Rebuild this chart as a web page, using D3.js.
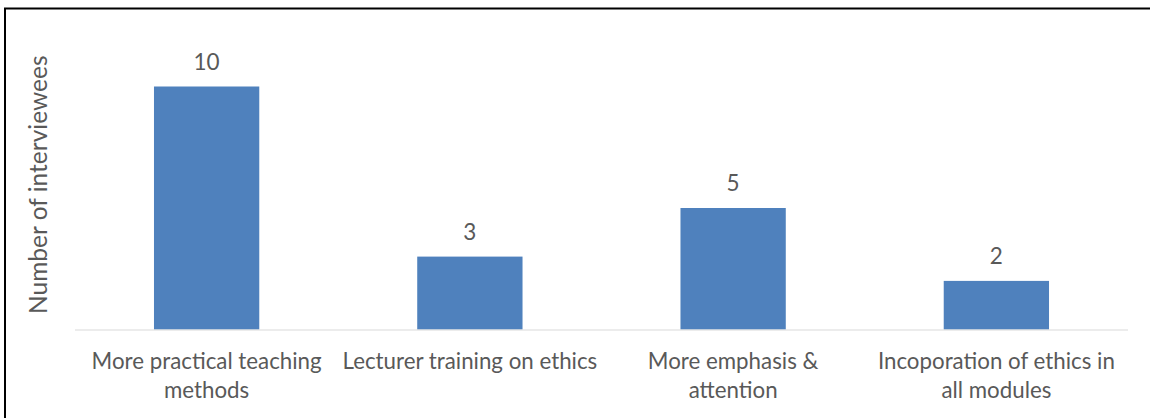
<!DOCTYPE html>
<html>
<head>
<meta charset="utf-8">
<script src="https://cdn.jsdelivr.net/npm/d3@7/dist/d3.min.js"></script>
<style>
  html, body { margin: 0; padding: 0; background: #fff; }
  svg { display: block; }
  text { font-family: Lato, "Open Sans", sans-serif; fill: #595959; }
</style>
</head>
<body>
<script>
// Suggested improvements and how many interviewees mentioned each
const categories = [
  ["More practical teaching", "methods"],
  ["Lecturer training on ethics"],
  ["More emphasis &", "attention"],
  ["Incoporation of ethics in", "all modules"]
];
const values = [10, 3, 5, 2];
const yTitle = "Number of interviewees";
const yMax = 12;

const W = 1150, H = 418;
const svg = d3.select("body").append("svg").attr("width", W).attr("height", H);

// frame edges (top and left)
svg.append("line").attr("x1", 4).attr("x2", W).attr("y1", 8.5).attr("y2", 8.5)
  .attr("stroke", "#000").attr("stroke-width", 2);
svg.append("line").attr("x1", 5).attr("x2", 5).attr("y1", 8).attr("y2", H)
  .attr("stroke", "#000").attr("stroke-width", 2);

const plot = { left: 75, right: 1128, top: 37.9, bottom: 329.5 };

const x = d3.scaleBand()
  .domain(d3.range(categories.length))
  .range([plot.left, plot.right])
  .paddingInner(0.6)
  .paddingOuter(0.3);

const y = d3.scaleLinear().domain([0, yMax]).range([plot.bottom, plot.top]);

// bars
svg.append("g").selectAll("rect").data(values).join("rect")
  .attr("x", (d, i) => x(i))
  .attr("width", x.bandwidth())
  .attr("y", d => y(d))
  .attr("height", d => y(0) - y(d))
  .attr("fill", "#4f81bd");

// category axis line
svg.append("line")
  .attr("x1", plot.left).attr("x2", plot.right)
  .attr("y1", y(0) + 0.5).attr("y2", y(0) + 0.5)
  .attr("stroke", "#d9d9d9").attr("stroke-width", 1);

// value labels
svg.append("g").selectAll("text").data(values).join("text")
  .attr("x", (d, i) => x(i) + x.bandwidth() / 2)
  .attr("y", d => y(d) - 17)
  .attr("text-anchor", "middle")
  .style("font-size", "22.5px")
  .text(d => d);

// category labels
const catG = svg.append("g").selectAll("text").data(categories).join("text")
  .attr("x", (d, i) => x(i) + x.bandwidth() / 2)
  .attr("y", 369)
  .attr("text-anchor", "middle")
  .style("font-size", "22.3px");
catG.selectAll("tspan").data(d => d).join("tspan")
  .attr("x", function () { return d3.select(this.parentNode).attr("x"); })
  .attr("dy", (d, i) => i === 0 ? 0 : 29)
  .text(d => d);

// y axis title
svg.append("text")
  .attr("transform", `translate(47, ${(plot.top + plot.bottom) / 2 + 1}) rotate(-90)`)
  .attr("text-anchor", "middle")
  .style("font-size", "24.5px")
  .text(yTitle);
</script>
</body>
</html>
